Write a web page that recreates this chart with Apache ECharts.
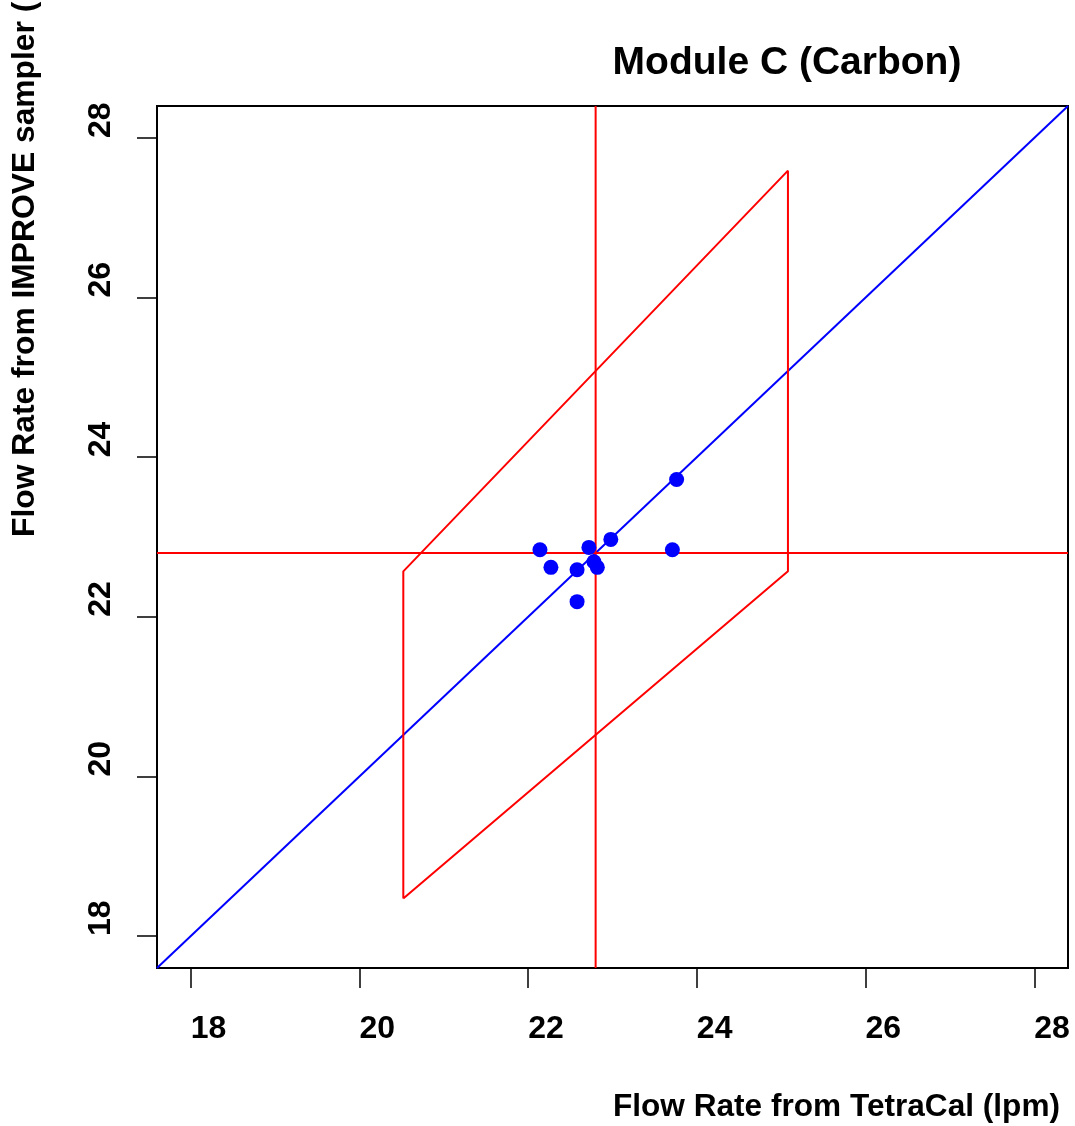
<!DOCTYPE html>
<html>
<head>
<meta charset="utf-8">
<script src="https://cdn.jsdelivr.net/npm/echarts@6/dist/echarts.min.js"></script>
<style>html,body{margin:0;padding:0;background:#fff}#c{width:1075px;height:1126px}</style>
</head>
<body>
<div id="c"></div>
<script>
// Data
const xTicks = [18, 20, 22, 24, 26, 28];
const yTicks = [18, 20, 22, 24, 26, 28];
const axisRange = [17.6, 28.4];
// measured points: [TetraCal flow, IMPROVE sampler flow]
const points = [
  [23.76, 23.72],
  [22.98, 22.97],
  [22.14, 22.84],
  [22.72, 22.87],
  [23.71, 22.84],
  [22.27, 22.62],
  [22.58, 22.59],
  [22.78, 22.69],
  [22.82, 22.62],
  [22.58, 22.19]
];
const refX = 22.8;
const refY = 22.8;
// 1:1 line
const oneToOne = [[17.6, 17.6], [28.4, 28.4]];
// +/-10% acceptance region (parallelogram)
const region = [[20.52, 18.47], [20.52, 22.57], [25.08, 27.59], [25.08, 22.57], [20.52, 18.47]];

const FONT = "'Liberation Sans', Arial, Helvetica, sans-serif";
const chart = echarts.init(document.getElementById('c'), null, {renderer: 'canvas'});
const option = {
  backgroundColor: '#ffffff',
  animation: false,
  grid: {left: 157, right: 7, top: 106, bottom: 158, show: true, borderColor: '#000', borderWidth: 2, backgroundColor: 'transparent'},
  xAxis: {
    type: 'value', min: axisRange[0], max: axisRange[1],
    splitLine: {show: false},
    axisLine: {show: false},
    axisTick: {show: true, length: 20, lineStyle: {color: '#000', width: 1.5}, customValues: xTicks},
    axisLabel: {customValues: xTicks, margin: 61, align: 'left', verticalAlign: 'middle',
      fontSize: 32, fontWeight: 'bold', color: '#000', fontFamily: FONT,
      formatter: v => String(v)}
  },
  yAxis: {
    type: 'value', min: axisRange[0], max: axisRange[1],
    splitLine: {show: false},
    axisLine: {show: false},
    axisTick: {show: true, length: 20, lineStyle: {color: '#000', width: 1.5}, customValues: yTicks},
    axisLabel: {customValues: yTicks, rotate: 90, margin: 56, align: 'left', verticalAlign: 'middle',
      fontSize: 32, fontWeight: 'bold', color: '#000', fontFamily: FONT,
      formatter: v => String(v)}
  },
  series: [
    {type: 'line', data: oneToOne, symbol: 'none', lineStyle: {color: '#0000ff', width: 2}, z: 2},
    {type: 'line', data: [[refX, axisRange[0]], [refX, axisRange[1]]], symbol: 'none', lineStyle: {color: '#ff0000', width: 2}, z: 2},
    {type: 'line', data: [[axisRange[0], refY], [axisRange[1], refY]], symbol: 'none', lineStyle: {color: '#ff0000', width: 2}, z: 2},
    {type: 'line', data: region, symbol: 'none', lineStyle: {color: '#ff0000', width: 2}, z: 2},
    {type: 'scatter', data: points, symbol: 'circle', symbolSize: 15, itemStyle: {color: '#0000ff', opacity: 1}, z: 5}
  ],
  graphic: [
    {type: 'text', x: 787, y: 63, style: {text: 'Module C (Carbon)', textAlign: 'center', textVerticalAlign: 'middle',
      font: "bold 39px " + FONT, fill: '#000'}},
    {type: 'text', x: 1060, y: 1107, style: {text: 'Flow Rate from TetraCal (lpm)', textAlign: 'right', textVerticalAlign: 'middle',
      font: "bold 31.6px " + FONT, fill: '#000'}},
    {type: 'text', x: 25, y: 537, rotation: Math.PI / 2, style: {text: 'Flow Rate from IMPROVE sampler (lpm)', textAlign: 'left', textVerticalAlign: 'middle',
      font: "bold 31.8px " + FONT, fill: '#000'}}
  ]
};
chart.setOption(option);
</script>
</body>
</html>
